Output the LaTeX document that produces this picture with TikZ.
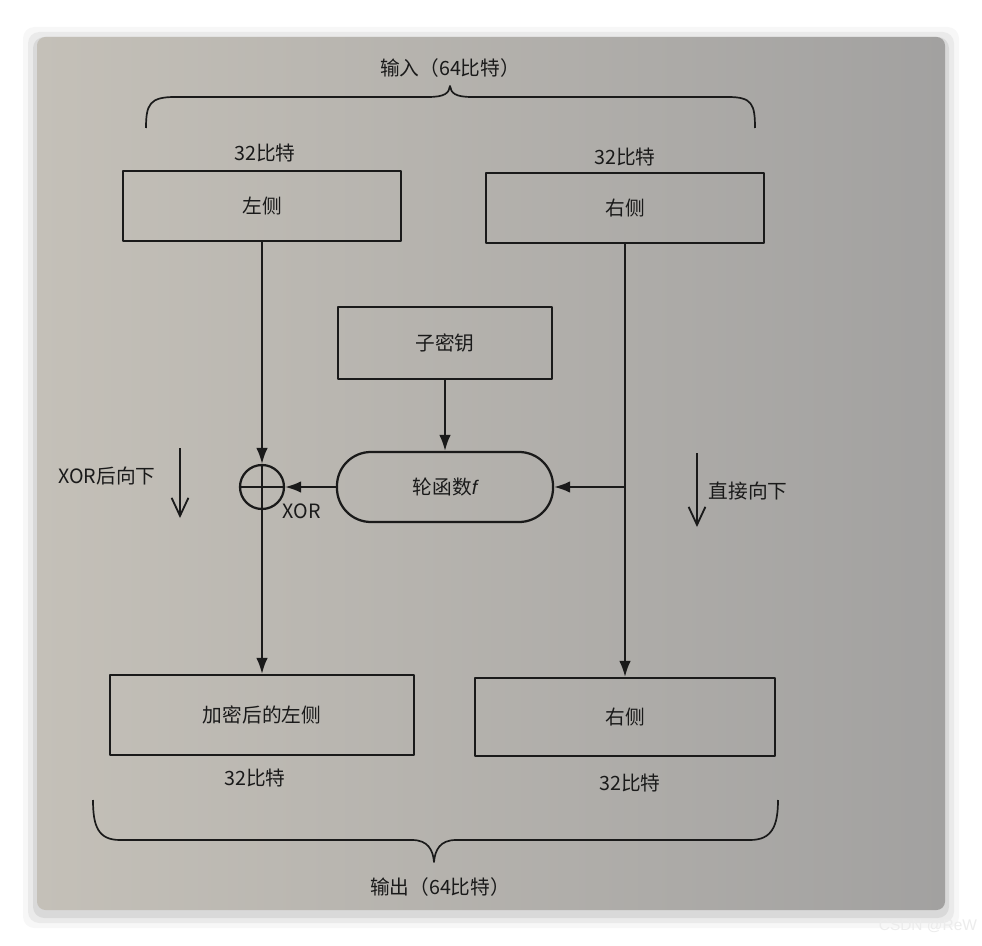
\documentclass[tikz,border=0pt]{standalone}
\usepackage{fontspec}
\setmainfont{Noto Sans CJK SC}
\newfontfamily\latinit{Liberation Sans}
\usetikzlibrary{arrows.meta,calc}
\usetikzlibrary{positioning}
\definecolor{paper}{HTML}{C4C0B8}
\definecolor{paperdark}{HTML}{A2A1A0}
\definecolor{ink}{HTML}{1A1A1A}
\tikzset{blk/.style={draw=ink,line width=1.6pt,minimum width=6.95cm,minimum height=1.75cm,inner sep=0pt},
  conn/.style={draw=ink,line width=1.4pt,-{Latex[length=4mm,width=2.9mm]}},
  hint/.style={draw=ink,line width=1.3pt,-{Straight Barb[length=4.5mm,width=4.2mm]}},
  brc/.style={draw=ink,line width=1.2pt}}

\begin{document}
\begin{tikzpicture}[x=0.025cm,y=-0.025cm,line join=round,font=\fontsize{14}{16}\selectfont,text=ink]
\useasboundingbox (0,0) rectangle (982,946);
\fill[white] (0,0) rectangle (982,946);
% --- photographed page, soft shadow round it
\foreach \s/\o in {14/0.03,9/0.05,4/0.07}
  \fill[black,opacity=\o,rounded corners=8pt] (37-\s,41-\s) rectangle (945+\s,914+\s);
\shade[left color=paper,right color=paperdark,rounded corners=6pt] (37,37) rectangle (945,910);
% --- input halves
\node (inlbl) at (450,68) {输入（64比特）};
\draw[brc] (146,128) .. controls (146,104) and (150,97) .. (175,97) -- (428,97) .. controls (445,97) and (449,93) .. (450,86)
  .. controls (451,93) and (455,97) .. (472,97) -- (728,97) .. controls (752,97) and (755,104) .. (755,128);
\node (lbits) at (265,153) {32比特}; \node (rbits) at (625,157) {32比特};
\node[blk] (lin) at (262,206) {左侧};
\node[blk] (rin) at (625,208) {右侧};
% --- subkey and round function
\node[blk,minimum width=5.35cm,minimum height=1.8cm] (key) at (445,343) {子密钥};
\node[blk,minimum width=5.4cm,rounded corners=0.85cm] (rf) at (445,487) {轮函数{\latinit\itshape f}};
\node[draw=ink,line width=1.6pt,circle,minimum size=1.1cm,inner sep=0pt,
  path picture={\draw[ink,line width=1.4pt] (path picture bounding box.north) -- (path picture bounding box.south)
  (path picture bounding box.west) -- (path picture bounding box.east);}] (xor) at (262,487) {};
\node (xorlbl) at (302,511) {XOR};
% --- output halves
\node[blk,minimum width=7.6cm,minimum height=2cm] (lout) at (262,715) {加密后的左侧};
\node[blk,minimum width=7.5cm,minimum height=1.95cm] (rout) at (625,717) {右侧};
\node (lobits) at (255,778) {32比特}; \node (robits) at (630,783) {32比特};
\draw[brc] (93,800) .. controls (93,826) and (98,840) .. (120,840) -- (412,840) .. controls (428,840) and (433,850) .. (434,862)
  .. controls (435,850) and (440,840) .. (456,840) -- (750,840) .. controls (772,840) and (778,826) .. (778,800);
\node (outlbl) at (440,887) {输出（64比特）};
% --- connectors
\draw[conn] (lin) -- (xor);
\draw[conn] (xor) -- (lout);
\draw[conn] (rin) -- (rout);
\draw[conn] (key) -- (rf);
\coordinate (tap) at (rin.south |- rf.east);
\draw[conn] (tap) -- (rf.east);
\draw[conn] (rf) -- (xor);
% --- side hints
\coordinate (h1a) at (180,448); \coordinate (h1b) at (180,518); \draw[hint] (h1a) -- (h1b);
\node (h1) at (107,476) {XOR后向下};
\coordinate (h2a) at (697,453); \coordinate (h2b) at (697,527); \draw[hint] (h2a) -- (h2b);
\node (h2) at (748,491) {直接向下};
\node[text=white!85!gray,font=\fontsize{11}{12}\selectfont\latinit,anchor=east] (wm) at (982,926) {CSDN @ReW};
\end{tikzpicture}
\end{document}
